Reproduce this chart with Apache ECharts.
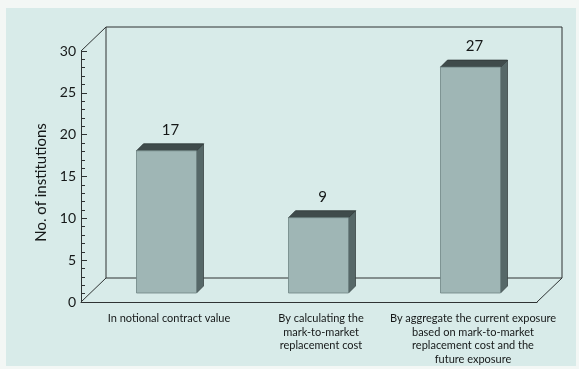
<!DOCTYPE html>
<html>
<head>
<meta charset="utf-8">
<script src="https://cdn.jsdelivr.net/npm/echarts@6/dist/echarts.min.js"></script>
<style>
  html, body { margin: 0; padding: 0; background: #f3f7f5; }
  #chart { width: 579px; height: 369px; }
</style>
</head>
<body>
<div id="chart"></div>
<script>
// Categories and counts
const categories = [
  'In notional contract value',
  'By calculating the\nmark-to-market\nreplacement cost',
  'By aggregate the current exposure\nbased on mark-to-market\nreplacement cost and the\nfuture exposure'
];
const institutions = [17, 9, 27];
const yMin = 0;
const yMax = 30;
const yStep = 5;
const yTitle = 'No. of institutions';

const FONT = 'Lato, "Open Sans", sans-serif';
const INK = '#151818';
const LINE = '#2e3333';

// Box depth (back wall offset) and bar placement inside the box
const WALL_DX = 25, WALL_DY = -24;
const BAR_SHIFT_X = 9.5, BAR_SHIFT_Y = -9;
const BAR_W = 60, BAR_DEPTH = 7;

function renderFrame(params, api) {
  const cs = params.coordSys;
  const x0 = cs.x, y0 = cs.y, x1 = cs.x + cs.width, y1 = cs.y + cs.height;
  const bx0 = x0 + WALL_DX, bx1 = x1 + WALL_DX, by0 = y0 + WALL_DY, by1 = y1 + WALL_DY;
  const st = { stroke: LINE, lineWidth: 1, fill: null };
  const line = (pts) => ({ type: 'polyline', shape: { points: pts }, style: st, silent: true });
  return {
    type: 'group',
    children: [
      // back wall
      line([[bx0, by1], [bx0, by0], [bx1, by0], [bx1, by1], [bx0, by1]]),
      // left wall top and floor left edge
      line([[x0, y0], [bx0, by0]]),
      line([[x0, y1], [bx0, by1]]),
      // floor right edge
      line([[x1, y1], [bx1, by1]])
    ]
  };
}

function renderBar(params, api) {
  const idx = api.value(0);
  const val = api.value(1);
  const base = api.coord([idx, 0]);
  const top = api.coord([idx, val]);
  const cx = base[0] + BAR_SHIFT_X;
  const l = cx - BAR_W / 2, r = cx + BAR_W / 2;
  const b = base[1] + BAR_SHIFT_Y, t = top[1] + BAR_SHIFT_Y;
  const d = BAR_DEPTH;
  return {
    type: 'group',
    children: [
      {
        type: 'polygon',
        shape: { points: [[r, t], [r + d, t - d], [r + d, b - d], [r, b]] },
        style: { fill: '#566868', stroke: '#3a4545', lineWidth: 0.8 }
      },
      {
        type: 'polygon',
        shape: { points: [[l, t], [l + d, t - d], [r + d, t - d], [r, t]] },
        style: { fill: '#3f4b4b', stroke: '#2f3838', lineWidth: 0.8 }
      },
      {
        type: 'rect',
        shape: { x: l, y: t, width: BAR_W, height: b - t },
        style: { fill: '#9fb6b5', stroke: '#6f8484', lineWidth: 0.8 }
      },
      {
        type: 'text',
        style: {
          text: String(val),
          x: cx + 4, y: t - d - 6,
          textAlign: 'center', textVerticalAlign: 'bottom',
          align: 'center', verticalAlign: 'bottom',
          font: '15px ' + FONT, fill: INK
        }
      }
    ]
  };
}

const chart = echarts.init(document.getElementById('chart'), null, { renderer: 'canvas' });
chart.setOption({
  backgroundColor: 'transparent',
  animation: false,
  graphic: [{
    type: 'rect', z: -100,
    shape: { x: 6, y: 8, width: 570, height: 358 },
    style: { fill: '#d8ebe9' }
  }],
  grid: { left: 81, right: 42, top: 51, bottom: 67, containLabel: false },
  xAxis: {
    type: 'category',
    data: categories,
    axisLine: { show: true, lineStyle: { color: LINE, width: 1 } },
    axisTick: { show: false },
    splitLine: { show: false },
    axisLabel: {
      interval: 0,
      margin: 10,
      padding: [0, 0, 0, 24],
      fontFamily: FONT,
      fontSize: 11,
      lineHeight: 13.5,
      color: INK
    }
  },
  yAxis: {
    type: 'value',
    min: yMin, max: yMax, interval: yStep,
    name: yTitle,
    nameLocation: 'middle',
    nameGap: 31,
    nameRotate: 90,
    nameTextStyle: { fontFamily: FONT, fontSize: 15, color: INK, padding: [0, 12, 0, 0] },
    axisLine: { show: true, lineStyle: { color: LINE, width: 1 } },
    axisTick: { show: true, inside: true, length: 6, lineStyle: { color: LINE } },
    minorTick: { show: true, splitNumber: 5, length: 4, lineStyle: { color: LINE } },
    splitLine: { show: false },
    axisLabel: { margin: 5, fontFamily: FONT, fontSize: 14, color: INK }
  },
  series: [
    {
      type: 'custom',
      name: 'frame',
      renderItem: renderFrame,
      data: [[0, 0]],
      z: 1,
      silent: true
    },
    {
      type: 'custom',
      name: 'institutions',
      renderItem: renderBar,
      encode: { x: 0, y: 1 },
      data: institutions.map((v, i) => [i, v]),
      z: 3
    }
  ]
});
</script>
</body>
</html>
